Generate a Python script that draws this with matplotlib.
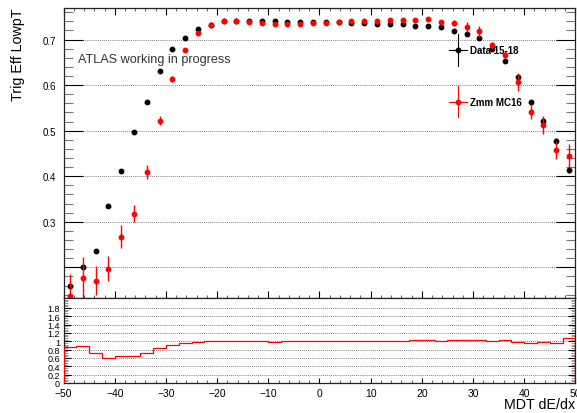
import numpy as np
import matplotlib
matplotlib.use("Agg")
from matplotlib import pyplot as plt
from matplotlib.ticker import MultipleLocator, FixedLocator, FixedFormatter, FormatStrFormatter

plt.rcParams['font.family'] = ['Liberation Sans', 'DejaVu Sans']

# binning: 40 bins of MDT dE/dx from -50 to 50
edges = np.linspace(-50, 50, 41)
centers = 0.5 * (edges[:-1] + edges[1:])

# Data 15-18 trigger efficiency
data_eff = [0.159, 0.201, 0.236, 0.334, 0.411, 0.496, 0.562, 0.630, 0.680, 0.704,
            0.724, 0.733, 0.740, 0.741, 0.740, 0.740, 0.741, 0.738, 0.738, 0.739,
            0.739, 0.739, 0.737, 0.737, 0.735, 0.734, 0.734, 0.729, 0.729, 0.727,
            0.719, 0.712, 0.704, 0.680, 0.653, 0.617, 0.562, 0.522, 0.477, 0.414]
data_err = [0.006, 0.005, 0.005, 0.004, 0.003, 0.003, 0.002, 0.002, 0.002, 0.002,
            0.001, 0.001, 0.001, 0.001, 0.001, 0.001, 0.001, 0.001, 0.001, 0.001,
            0.001, 0.001, 0.001, 0.001, 0.001, 0.001, 0.001, 0.001, 0.001, 0.002,
            0.002, 0.002, 0.002, 0.003, 0.003, 0.004, 0.005, 0.008, 0.006, 0.006]

# Zmm MC16 trigger efficiency
mc_eff = [0.136, 0.176, 0.171, 0.197, 0.267, 0.318, 0.409, 0.522, 0.614, 0.678,
          0.715, 0.733, 0.740, 0.741, 0.738, 0.737, 0.735, 0.735, 0.735, 0.737,
          0.737, 0.739, 0.741, 0.741, 0.741, 0.743, 0.743, 0.743, 0.744, 0.739,
          0.736, 0.727, 0.718, 0.687, 0.667, 0.606, 0.541, 0.513, 0.457, 0.444]
mc_err = [0.050, 0.047, 0.032, 0.027, 0.025, 0.019, 0.016, 0.010, 0.007, 0.004,
          0.003, 0.003, 0.003, 0.003, 0.003, 0.003, 0.003, 0.003, 0.003, 0.003,
          0.003, 0.003, 0.003, 0.003, 0.003, 0.003, 0.003, 0.003, 0.003, 0.004,
          0.007, 0.011, 0.012, 0.007, 0.008, 0.020, 0.016, 0.020, 0.020, 0.026]

ratio = np.array(mc_eff) / np.array(data_eff)

fig = plt.figure(figsize=(5.77, 4.14), dpi=100)
ax = fig.add_axes([0.1102, 0.2771, 0.887, 0.702])
rax = fig.add_axes([0.1102, 0.0725, 0.887, 0.2046])

grid_kw = dict(linestyle=(0, (1, 1.5)), color='#555555', linewidth=0.6)

# ---- top panel
ax.errorbar(centers, data_eff, yerr=data_err, fmt='o', color='black', ms=3.2,
            elinewidth=1, capsize=0, zorder=3)
ax.errorbar(centers, mc_eff, yerr=mc_err, fmt='o', color='red', ms=3.2,
            elinewidth=1, capsize=0, zorder=4)

ax.set_xlim(-50, 50)
ax.set_ylim(0.132, 0.770)
ax.yaxis.set_major_locator(FixedLocator([0.2, 0.3, 0.4, 0.5, 0.6, 0.7]))
ax.yaxis.set_major_formatter(FixedFormatter(['', '0.3', '0.4', '0.5', '0.6', '0.7']))
ax.yaxis.set_minor_locator(MultipleLocator(0.02))
ax.xaxis.set_major_locator(MultipleLocator(10))
ax.xaxis.set_minor_locator(MultipleLocator(2))
ax.tick_params(axis='x', which='both', direction='in', top=True, bottom=True, labelbottom=False)
ax.tick_params(axis='x', which='major', length=5, width=0.8)
ax.tick_params(axis='x', which='minor', length=2.5, width=0.8, color='#666666')
ax.tick_params(axis='y', which='both', direction='in', left=True, right=True, labelsize=7, pad=5.5)
ax.tick_params(axis='y', which='major', length=13.5, width=0.8)
ax.tick_params(axis='y', which='minor', length=6.5, width=0.8, color='#777777')
ax.yaxis.grid(True, which='major', **grid_kw)
ax.set_axisbelow(True)
for s in ax.spines.values():
    s.set_linewidth(0.9)
    s.set_color('#222222')

ax.set_ylabel('Trig Eff LowpT', fontsize=10.3, loc='top')
ax.yaxis.set_label_coords(-0.0754, 1.0)

ax.text(0.028, 0.8235, 'ATLAS working in progress', transform=ax.transAxes,
        fontsize=9.1, color='#333333', ha='left', va='center')

# legend drawn ROOT style (marker with long error crosses)
leg_x, leg_dx = 0.771, 0.018
for y0, dy, col, lab in [(0.8555, 0.055, 'black', 'Data 15-18'),
                         (0.6765, 0.053, 'red', 'Zmm MC16')]:
    ax.plot([leg_x - leg_dx, leg_x + leg_dx], [y0, y0], color=col, lw=0.8,
            transform=ax.transAxes, zorder=5)
    ax.plot([leg_x, leg_x], [y0 - dy, y0 + dy], color=col, lw=0.8,
            transform=ax.transAxes, zorder=5)
    ax.plot([leg_x], [y0], 'o', color=col, ms=3.2, transform=ax.transAxes, zorder=5)
    ax.text(0.795, y0, lab, transform=ax.transAxes, fontsize=7,
            fontweight='bold', ha='left', va='center', zorder=6)

# ---- ratio panel
rax.stairs(ratio, edges, color='red', linewidth=0.9, zorder=3)
rax.set_xlim(-50, 50)
rax.set_ylim(0, 2.03)
rax.yaxis.set_major_locator(FixedLocator([0, 0.2, 0.4, 0.6, 0.8, 1.0, 1.2, 1.4, 1.6, 1.8]))
rax.yaxis.set_major_formatter(FormatStrFormatter('%g'))
rax.yaxis.set_minor_locator(MultipleLocator(0.04))
rax.xaxis.set_major_locator(MultipleLocator(10))
rax.xaxis.set_minor_locator(MultipleLocator(2))
rax.tick_params(axis='x', which='both', direction='in', top=False, bottom=True,
                labelsize=7.5, pad=3.5)
rax.tick_params(axis='x', which='major', length=3.5, width=0.8)
rax.tick_params(axis='x', which='minor', length=2, width=0.8, color='#666666')
rax.tick_params(axis='y', which='both', direction='in', left=True, right=True,
                labelsize=6.5, pad=2.5)
rax.tick_params(axis='y', which='major', length=5, width=0.8)
rax.tick_params(axis='y', which='minor', length=3, width=0.6, color='#888888')
rax.yaxis.grid(True, which='major', **grid_kw)
rax.set_axisbelow(True)
for s in rax.spines.values():
    s.set_linewidth(0.9)
    s.set_color('#222222')

rax.set_xlabel('MDT dE/dx', fontsize=10.3, loc='right')
rax.xaxis.set_label_coords(1.0, -0.17)

fig.savefig('out.png', dpi=100)
